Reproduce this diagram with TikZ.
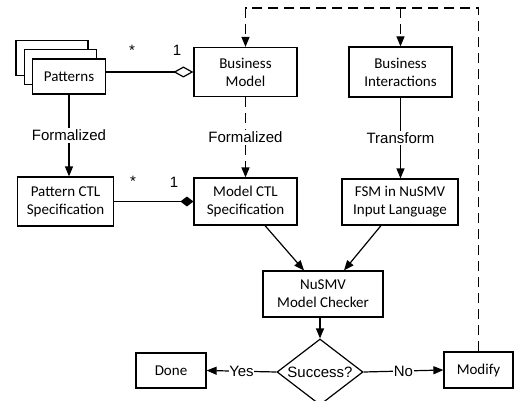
\documentclass[tikz,border=0pt]{standalone}
\usepackage{fontspec}
\newfontfamily\calfont{Carlito}
\newfontfamily\arifont{Liberation Sans}
\usetikzlibrary{arrows.meta,shapes.geometric,calc}
\tikzset{
  box/.style={draw, line width=1.2pt, fill=white, align=center, inner sep=0pt,
    font=\calfont\fontsize{15}{18}\selectfont},
  lbl/.style={fill=white, inner sep=1.5pt, font=\arifont\fontsize{15}{18}\selectfont},
  mult/.style={inner sep=0pt, anchor=base, font=\arifont\fontsize{15}{18}\selectfont},
  conn/.style={line width=1.2pt},
  arr/.style={conn, -{Triangle[length=10pt,width=8pt]}},
  dsh/.style={dash pattern=on 10pt off 6pt},
}
\begin{document}
\begin{tikzpicture}[x=1pt,y=-1pt]
\useasboundingbox (0,0) rectangle (514,401);
% Patterns stack
\node[box, minimum width=72pt, minimum height=35pt] (pat3) at (52,58) {};
\node[box, minimum width=72pt, minimum height=35pt] (pat2) at (60.5,67) {};
\node[box, minimum width=73pt, minimum height=35pt] (pat) at (69,76.5) {Patterns};
% Top row
\node[box, minimum width=103pt, minimum height=49pt] (bm) at (245.5,72) {Business\\Model};
\node[box, minimum width=103pt, minimum height=50pt] (bi) at (400.5,72) {Business\\Interactions};
% Middle row
\node[box, minimum width=96pt, minimum height=49pt] (pctl) at (65.5,201.5) {Pattern CTL\\Specification};
\node[box, minimum width=103pt, minimum height=47pt] (mctl) at (245.5,201.5) {Model CTL\\Specification};
\node[box, minimum width=116pt, minimum height=46pt] (fsm) at (400,202) {FSM in NuSMV\\Input Language};
% Checker
\node[box, minimum width=120pt, minimum height=46pt] (nu) at (323,294) {NuSMV\\Model Checker};
\node[draw, line width=1.2pt, diamond, aspect=1.3, inner sep=0pt, minimum width=86pt, minimum height=66pt,
  font=\arifont\fontsize{15}{18}\selectfont] (dia) at (320,372) {Success?};
\node[box, minimum width=70pt, minimum height=35pt] (done) at (171,370.5) {Done};
\node[box, minimum width=69pt, minimum height=36pt] (mod) at (478.5,370) {Modify};
% Associations
\draw[conn, {Diamond[open,length=20pt,width=11pt]}-] (bm.west) -- (bm.west -| pat.east);
\draw[conn, {Diamond[length=13pt,width=10pt]}-] (mctl.west) -- (mctl.west -| pctl.east);
\node[mult] (s1) at (132,56) {*};
\node[mult] (o1) at (177,56) {1};
\node[mult] (s2) at (133,186) {*};
\node[mult] (o2) at (174,187) {1};
% Vertical flows
\draw[arr] (pat.south) -- node[lbl] (f1) {Formalized} (pat.south |- pctl.north);
\draw[arr, dsh] (bm.south) -- node[lbl] (f2) {Formalized} (mctl.north);
\draw[arr] (bi.south) -- node[lbl] (t1) {Transform} (bi.south |- fsm.north);
\draw[arr] ([xshift=19.5pt]mctl.south) -- ([xshift=-19pt]nu.north);
\draw[arr] ([xshift=-19pt]fsm.south) -- ([xshift=21pt]nu.north);
\draw[arr] (nu.south -| dia.north) -- (dia.north);
\draw[arr] (dia.west) -- node[lbl, inner sep=0.5pt] (y1) {Yes} (done.east);
\draw[arr] (dia.east) -- node[lbl, inner sep=0.5pt] (n1) {No} (mod.west);
% Feedback loop
\coordinate (tl) at (245.5,8);
\draw[arr, dsh] (mod.north) |- (tl) -- (bm.north);
\draw[arr, dsh] (bi.north |- tl) -- (bi.north);
\end{tikzpicture}
\end{document}
